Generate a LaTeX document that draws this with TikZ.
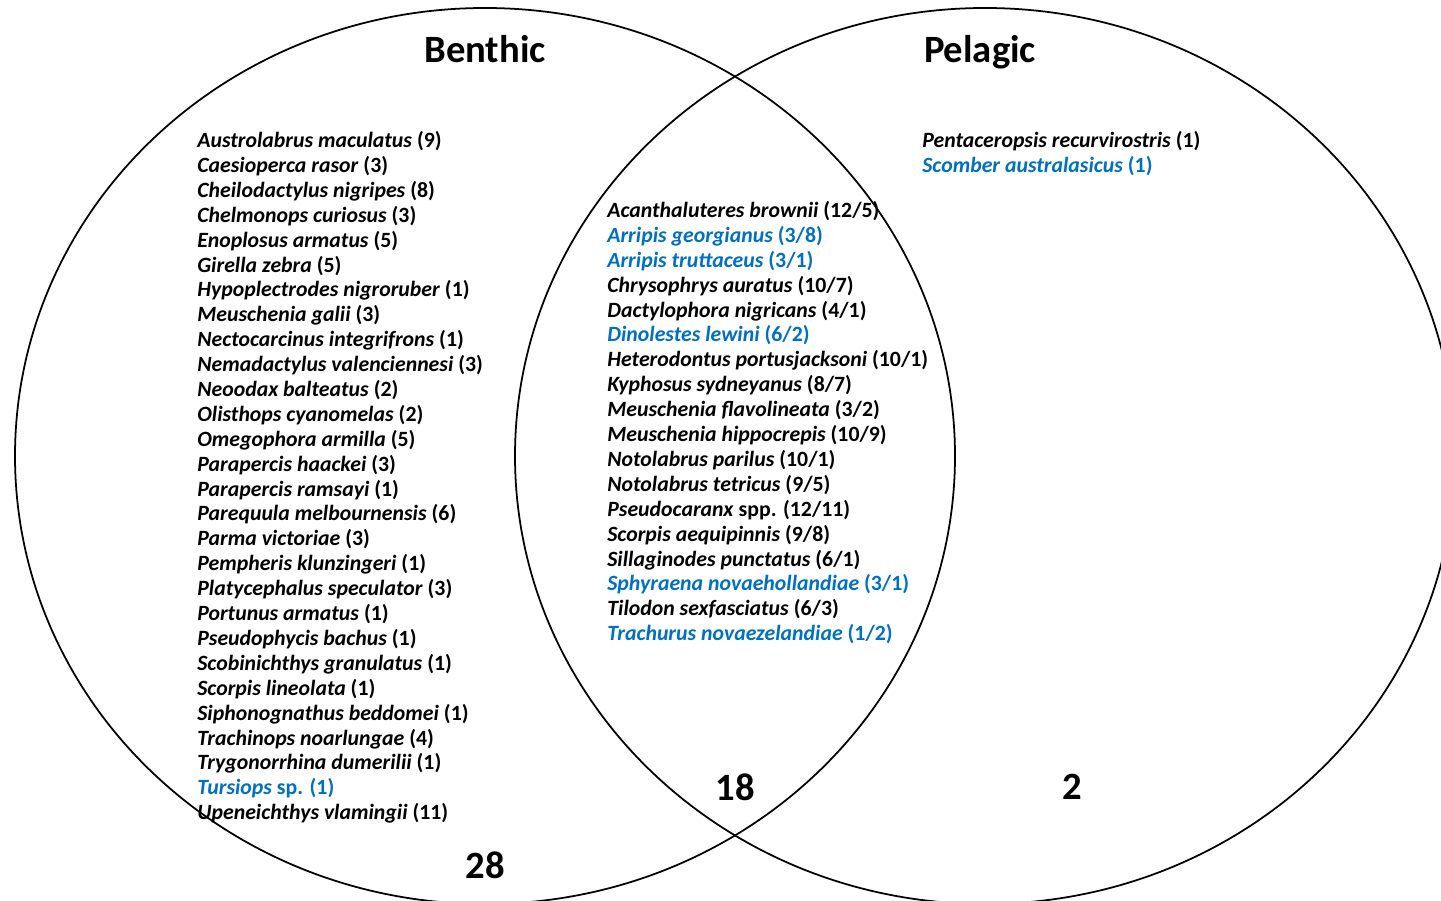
\documentclass[tikz,border=0pt]{standalone}
\usepackage{fontspec}
\setmainfont{Carlito}
\definecolor{fishblue}{HTML}{0070C0}
\newcommand{\fish}[2]{\textit{#1} #2}
\newcommand{\bluefish}[2]{\textcolor{fishblue}{\textit{#1} #2}}

\begin{document}
\begin{tikzpicture}[x=0.02cm,y=-0.02cm,
  zone/.style={draw=black, line width=1pt},
  heading/.style={font=\fontsize{22}{26}\selectfont\bfseries, inner sep=0pt, anchor=base},
  tally/.style={font=\fontsize{22}{26}\selectfont\bfseries, inner sep=0pt},
  species/.style={font=\fontsize{12.4}{14.17}\selectfont\bfseries, align=left,
                  anchor=north west, inner sep=0pt}]

\useasboundingbox (0,0) rectangle (1441,901);
\clip (0,0) rectangle (1441,901);

% the two habitats
\draw [zone] (485,456) ellipse [x radius=470, y radius=448];
\draw [zone] (985,456) ellipse [x radius=470, y radius=448];

% headings
\node [heading] (benthic) at (485,63) {Benthic};
\node [heading] (pelagic) at (980,63) {Pelagic};

% benthic only
\node [species] (benthicList) at (197,131) {%
\fish{Austrolabrus maculatus}{(9)}\\
\fish{Caesioperca rasor}{(3)}\\
\fish{Cheilodactylus nigripes}{(8)}\\
\fish{Chelmonops curiosus}{(3)}\\
\fish{Enoplosus armatus}{(5)}\\
\fish{Girella zebra}{(5)}\\
\fish{Hypoplectrodes nigroruber}{(1)}\\
\fish{Meuschenia galii}{(3)}\\
\fish{Nectocarcinus integrifrons}{(1)}\\
\fish{Nemadactylus valenciennesi}{(3)}\\
\fish{Neoodax balteatus}{(2)}\\
\fish{Olisthops cyanomelas}{(2)}\\
\fish{Omegophora armilla}{(5)}\\
\fish{Parapercis haackei}{(3)}\\
\fish{Parapercis ramsayi}{(1)}\\
\fish{Parequula melbournensis}{(6)}\\
\fish{Parma victoriae}{(3)}\\
\fish{Pempheris klunzingeri}{(1)}\\
\fish{Platycephalus speculator}{(3)}\\
\fish{Portunus armatus}{(1)}\\
\fish{Pseudophycis bachus}{(1)}\\
\fish{Scobinichthys granulatus}{(1)}\\
\fish{Scorpis lineolata}{(1)}\\
\fish{Siphonognathus beddomei}{(1)}\\
\fish{Trachinops noarlungae}{(4)}\\
\fish{Trygonorrhina dumerilii}{(1)}\\
\bluefish{Tursiops}{sp. (1)}\\
\fish{Upeneichthys vlamingii}{(11)}};

% both habitats
\node [species] (bothList) at (607,201) {%
\fish{Acanthaluteres brownii}{(12/5)}\\
\bluefish{Arripis georgianus}{(3/8)}\\
\bluefish{Arripis truttaceus}{(3/1)}\\
\fish{Chrysophrys auratus}{(10/7)}\\
\fish{Dactylophora nigricans}{(4/1)}\\
\bluefish{Dinolestes lewini}{(6/2)}\\
\fish{Heterodontus portusjacksoni}{(10/1)}\\
\fish{Kyphosus sydneyanus}{(8/7)}\\
\fish{Meuschenia flavolineata}{(3/2)}\\
\fish{Meuschenia hippocrepis}{(10/9)}\\
\fish{Notolabrus parilus}{(10/1)}\\
\fish{Notolabrus tetricus}{(9/5)}\\
\fish{Pseudocaranx}{spp. (12/11)}\\
\fish{Scorpis aequipinnis}{(9/8)}\\
\fish{Sillaginodes punctatus}{(6/1)}\\
\bluefish{Sphyraena novaehollandiae}{(3/1)}\\
\fish{Tilodon sexfasciatus}{(6/3)}\\
\bluefish{Trachurus novaezelandiae}{(1/2)}};

% pelagic only
\node [species] (pelagicList) at (922,131) {%
\fish{Pentaceropsis recurvirostris}{(1)}\\
\bluefish{Scomber australasicus}{(1)}};

% totals
\node [tally] (benthicCount) at (485,865) {28};
\node [tally] (bothCount) at (735,787) {18};
\node [tally] (pelagicCount) at (1072,787) {2};

\end{tikzpicture}
\end{document}
